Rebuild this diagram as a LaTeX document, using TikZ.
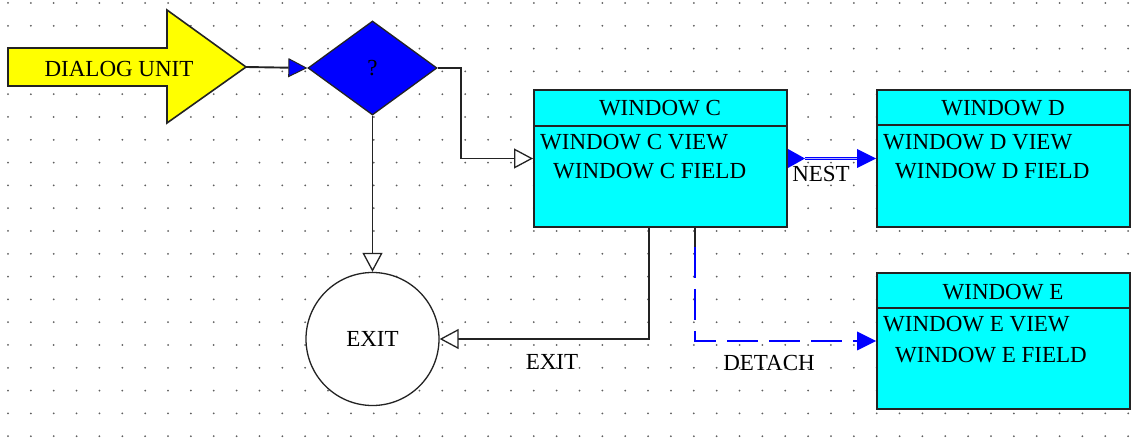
\documentclass[tikz,border=0pt]{standalone}
\usepackage{fontspec}
\setmainfont{Liberation Serif}
\usetikzlibrary{arrows.meta,shapes.geometric}
\definecolor{wincyan}{RGB}{0,255,255}
\definecolor{qblue}{RGB}{0,0,255}
\definecolor{unityellow}{RGB}{255,255,0}
\definecolor{ink}{RGB}{35,35,35}
\definecolor{griddot}{RGB}{95,95,95}
\begin{document}
\begin{tikzpicture}[x=1pt,y=-1pt,
  font=\fontsize{23}{26}\selectfont,
  every node/.style={inner sep=0pt},
  outline/.style={draw=ink, line width=2pt},
  winbox/.style={outline, fill=wincyan, rectangle, anchor=north west,
                 minimum width=253pt, minimum height=137pt},
  txt/.style={anchor=west},
  conn/.style={draw=ink, line width=1.9pt},
  opentip/.style={-{Triangle[fill=white, length=19pt, width=20pt, line width=1.3pt]}},
  bluetip/.style={-{Triangle[fill=qblue, length=19pt, width=19pt, line width=1pt]}},
  detach/.style={draw=qblue, line width=1.8pt, dash pattern=on 31pt off 11pt,
                 -{Triangle[fill=qblue, length=19pt, width=19pt, line width=0pt]}},
  nestline/.style={draw=qblue, line width=3pt,
                 {Triangle[reversed, fill=qblue, length=17pt, width=19pt, line width=0pt]}-{Triangle[fill=qblue, length=19pt, width=19pt, line width=0pt]}}
]
\useasboundingbox (0,0) rectangle (1146,443);
\fill[white] (0,0) rectangle (1146,443);

% dotted drawing grid
\foreach \i in {0,...,49}{
  \foreach \j in {0,...,19}{
    \fill[griddot] ({8+22.86*\i},{3+22.8*\j}) circle[radius=1pt];
  }
}

% entry arrow
\filldraw[outline, line width=1.6pt, fill=unityellow]
  (8,48) -- (167,48) -- (167,10) -- (246,67) -- (167,123) -- (167,86) -- (8,86) -- cycle;
\coordinate (du-tip) at (246,67);
\node (du) at (119,69) {DIALOG UNIT};

% decision
\node[diamond, draw=ink, line width=1.3pt, fill=qblue, minimum width=129pt,
      minimum height=94pt] (q) at (372.5,68) {?};

% exit state
\node[circle, draw=ink, line width=1.3pt, fill=white, minimum size=133pt] (exit) at (372.5,339) {EXIT};

% windows
\node[winbox] (wc) at (533,89) {};
\draw[outline] ([yshift=-37pt]wc.north west) -- ([yshift=-37pt]wc.north east);
\node (wc-title) at (660,108) {WINDOW C};
\node[txt] (wc-view) at (540,142) {WINDOW C VIEW};
\node[txt] (wc-field) at (553,171) {WINDOW C FIELD};

\node[winbox] (wd) at (876,89) {};
\draw[outline] ([yshift=-36pt]wd.north west) -- ([yshift=-36pt]wd.north east);
\node (wd-title) at (1003,108) {WINDOW D};
\node[txt] (wd-view) at (883,142) {WINDOW D VIEW};
\node[txt] (wd-field) at (895,171) {WINDOW D FIELD};

\node[winbox, minimum height=136pt] (we) at (876,272) {};
\draw[outline] ([yshift=-36pt]we.north west) -- ([yshift=-36pt]we.north east);
\node (we-title) at (1003,292) {WINDOW E};
\node[txt] (we-view) at (883,324) {WINDOW E VIEW};
\node[txt] (we-field) at (895,355) {WINDOW E FIELD};

% connectors
\draw[conn, bluetip] (du-tip) -- (q.west);
\draw[conn, opentip] (q.east) -- ++(23,0) |- (wc.west);
\draw[conn, opentip] (q.south) -- (exit.north);
\draw[conn, opentip] ([xshift=-11.5pt]wc.south) |- (exit.east);
\draw[conn] ([xshift=34.5pt]wc.south) -- ++(0,19) coordinate (dt);
\draw[detach] (dt) |- (we.west);
\draw[nestline] (wc.east) -- (wd.west);
\draw[draw=qblue!30, line width=1pt, shorten <=17pt, shorten >=19pt] (wc.east) -- (wd.west);

% connector labels
\node (l-nest) at (821,174) {NEST};
\node (l-exit) at (552,362) {EXIT};
\node (l-detach) at (769,363) {DETACH};
\end{tikzpicture}
\end{document}
